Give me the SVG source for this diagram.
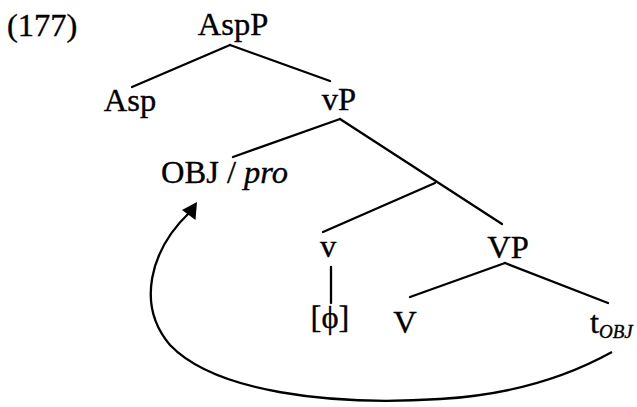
<svg xmlns="http://www.w3.org/2000/svg" width="637" height="407" viewBox="0 0 637 407">
<style>
text { font-family: "Liberation Serif", "Times New Roman", serif; font-size: 32.5px; fill: #000; stroke: #000; stroke-width: 0.35; }
.c text { text-anchor: middle; }
.e line { stroke: #000; stroke-width: 2.3; stroke-linecap: round; }
.sub { font-size: 19px; font-style: italic; }
</style>
<text x="7" y="36">(177)</text>
<g class="c">
<g id="AspP"><text x="233" y="35">AspP</text></g>
<g id="Asp"><text x="130" y="111">Asp</text></g>
<g id="vP"><text x="339" y="110">vP</text></g>
<g id="OBJpro"><text x="161" y="183" style="text-anchor:start">OBJ / <tspan font-style="italic">pro</tspan></text></g>
<g id="v"><text x="328" y="257">v</text></g>
<g id="phi"><text x="330" y="328">[ϕ]</text></g>
<g id="VP"><text x="508" y="258">VP</text></g>
<g id="V"><text x="405" y="333">V</text></g>
<g id="tOBJ"><text x="590" y="333" style="text-anchor:start">t<tspan class="sub" dy="5">OBJ</tspan></text></g>
</g>
<g id="connectors" class="e">
<line x1="230" y1="45" x2="132" y2="87"/>
<line x1="230" y1="45" x2="330" y2="81"/>
<line x1="340" y1="119" x2="233" y2="157"/>
<line x1="340" y1="119" x2="502" y2="224"/>
<line x1="435" y1="183" x2="323" y2="232"/>
<line x1="331" y1="267" x2="331" y2="303"/>
<line x1="505" y1="263" x2="410" y2="297"/>
<line x1="505" y1="263" x2="608" y2="303"/>
<path d="M612,352 C565,378 510,395 440,399 C330,406 215,392 170,345 C136,305 150,250 190,212" fill="none" stroke="#000" stroke-width="2.3"/>
<path d="M197,202 L195.5,220 L182,210 Z" fill="#000"/>
</g>
</svg>
